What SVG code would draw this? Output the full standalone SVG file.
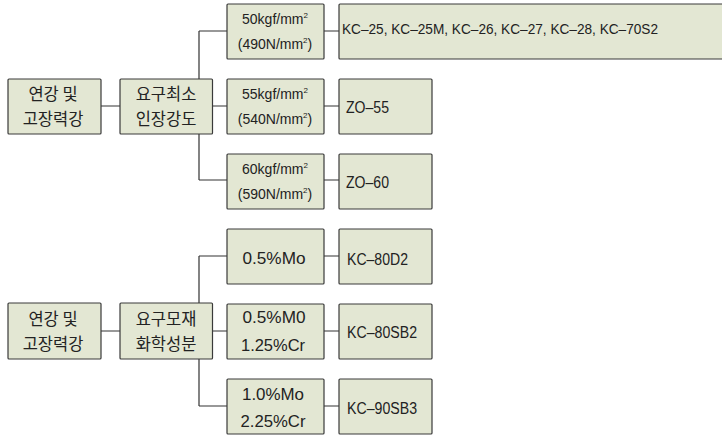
<svg xmlns="http://www.w3.org/2000/svg" width="722" height="435" viewBox="0 0 722 435">
<style>
.box{fill:#e3e7d3;stroke:#3a3a3a;stroke-width:1.2}
.t{font-family:"Liberation Sans","Noto Sans CJK KR",sans-serif;font-size:14px;fill:#222;text-anchor:middle}
.k{font-family:"Noto Sans CJK KR","Liberation Sans",sans-serif;font-size:16.5px;fill:#222;text-anchor:middle}
.p{font-family:"Liberation Sans","Noto Sans CJK KR",sans-serif;font-size:16px;fill:#222;text-anchor:middle}
.l{font-family:"Liberation Sans","Noto Sans CJK KR",sans-serif;font-size:16px;fill:#222}
.m{font-family:"Liberation Sans","Noto Sans CJK KR",sans-serif;font-size:14.5px;fill:#222}
.c{fill:none;stroke:#333;stroke-width:1.2}
.s{font-size:8px}
</style>
<rect width="722" height="435" fill="#fff"/>
<g id="connectors">
<path class="c" d="M101 106H120M212.5 106H227M199 31V180M199 31H227M199 180H227M324 31H339M324 106H339M324 180H339"/>
<path class="c" d="M101 331H120M212.5 331H227M199 256V406M199 256H227M199 406H227M324 256H339M324 331H339M324 406H339"/>
</g>
<g id="a1"><rect class="box" x="8" y="79" width="93" height="55" rx="1"/><text class="k" x="53" y="100">연강 및</text><text class="k" x="53" y="125">고장력강</text></g>
<g id="b1"><rect class="box" x="120" y="79" width="92.5" height="55" rx="1"/><text class="k" x="166" y="100">요구최소</text><text class="k" x="166" y="125">인장강도</text></g>
<g id="c1"><rect class="box" x="227" y="4" width="97" height="55" rx="1"/><text class="t" x="275" y="24">50kgf/mm<tspan class="s" dy="-6">2</tspan></text><text class="t" x="275" y="49">(490N/mm<tspan class="s" dy="-6">2</tspan><tspan dy="6">)</tspan></text></g>
<g id="c2"><rect class="box" x="227" y="79" width="97" height="55" rx="1"/><text class="t" x="275" y="99">55kgf/mm<tspan class="s" dy="-6">2</tspan></text><text class="t" x="275" y="124">(540N/mm<tspan class="s" dy="-6">2</tspan><tspan dy="6">)</tspan></text></g>
<g id="c3"><rect class="box" x="227" y="154" width="97" height="55" rx="1"/><text class="t" x="275" y="174">60kgf/mm<tspan class="s" dy="-6">2</tspan></text><text class="t" x="275" y="199">(590N/mm<tspan class="s" dy="-6">2</tspan><tspan dy="6">)</tspan></text></g>
<g id="d1"><rect class="box" x="339" y="4" width="390" height="55" rx="1"/><text class="m" x="342" y="34" textLength="316" lengthAdjust="spacingAndGlyphs">KC–25, KC–25M, KC–26, KC–27, KC–28, KC–70S2</text></g>
<g id="d2"><rect class="box" x="339" y="79" width="93" height="55" rx="1"/><text class="l" x="346" y="113" textLength="43" lengthAdjust="spacingAndGlyphs">ZO–55</text></g>
<g id="d3"><rect class="box" x="339" y="154" width="93" height="55" rx="1"/><text class="l" x="346" y="188" textLength="43" lengthAdjust="spacingAndGlyphs">ZO–60</text></g>
<g id="a2"><rect class="box" x="8" y="303" width="93" height="56" rx="1"/><text class="k" x="53" y="325">연강 및</text><text class="k" x="53" y="350">고장력강</text></g>
<g id="b2"><rect class="box" x="120" y="303" width="92.5" height="56" rx="1"/><text class="k" x="166" y="325">요구모재</text><text class="k" x="166" y="350">화학성분</text></g>
<g id="c4"><rect class="box" x="227" y="229" width="97" height="55" rx="1"/><text class="p" x="274" y="264" textLength="63" lengthAdjust="spacingAndGlyphs">0.5%Mo</text></g>
<g id="c5"><rect class="box" x="227" y="304" width="97" height="55" rx="1"/><text class="p" x="274" y="323" textLength="63" lengthAdjust="spacingAndGlyphs">0.5%M0</text><text class="p" x="273" y="351" textLength="64" lengthAdjust="spacingAndGlyphs">1.25%Cr</text></g>
<g id="c6"><rect class="box" x="227" y="379" width="97" height="55" rx="1"/><text class="p" x="273" y="400" textLength="62" lengthAdjust="spacingAndGlyphs">1.0%Mo</text><text class="p" x="273" y="427" textLength="65" lengthAdjust="spacingAndGlyphs">2.25%Cr</text></g>
<g id="d4"><rect class="box" x="339" y="229" width="93" height="55" rx="1"/><text class="l" x="347" y="265" textLength="61" lengthAdjust="spacingAndGlyphs">KC–80D2</text></g>
<g id="d5"><rect class="box" x="339" y="304" width="93" height="55" rx="1"/><text class="l" x="347" y="338" textLength="70" lengthAdjust="spacingAndGlyphs">KC–80SB2</text></g>
<g id="d6"><rect class="box" x="339" y="379" width="93" height="55" rx="1"/><text class="l" x="347" y="414" textLength="70" lengthAdjust="spacingAndGlyphs">KC–90SB3</text></g>
</svg>
